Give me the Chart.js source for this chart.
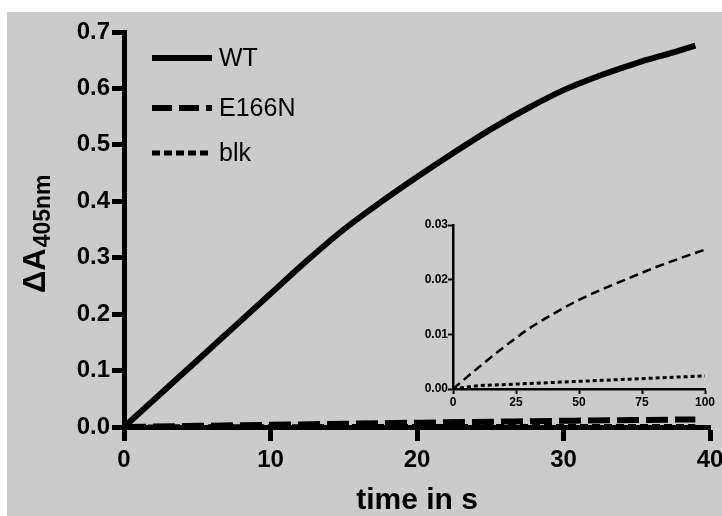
<!DOCTYPE html>
<html>
<head>
<meta charset="utf-8">
<script src="https://cdn.jsdelivr.net/npm/chart.js@4/dist/chart.umd.min.js"></script>
<style>
  html, body { margin: 0; padding: 0; background: #ffffff; }
  #wrap { position: relative; width: 722px; height: 516px; }
  #main { position: absolute; left: 0; top: 0; }
  #inset { position: absolute; left: 400px; top: 210px; }
</style>
</head>
<body>
<div id="wrap">
  <canvas id="main" width="722" height="516"></canvas>
  <canvas id="inset" width="322" height="210"></canvas>
</div>
<script>
// ---- data ----
const seriesNames = ['WT', 'E166N', 'blk'];

const timeWT = [0, 2.5, 5, 7.5, 10, 12.5, 15, 17.5, 20, 22.5, 25, 27.5, 30, 32.5, 35, 37.5, 39];
const valuesWT = [0, 0.059, 0.118, 0.177, 0.236, 0.295, 0.350, 0.398, 0.443, 0.486, 0.527, 0.564, 0.597, 0.623, 0.645, 0.664, 0.676];

const timeMain = [0, 5, 10, 15, 20, 25, 30, 35, 39];
const valuesE166NMain = [0, 0.0020, 0.0039, 0.0058, 0.0076, 0.0093, 0.0110, 0.0124, 0.0135];
const valuesBlkMain = [0, 0.0004, 0.0006, 0.0007, 0.0008, 0.0009, 0.0010, 0.0011, 0.0011];

const timeInset = [0, 10, 20, 30, 40, 50, 60, 70, 80, 90, 100];
const valuesE166NInset = [0, 0.0039, 0.0076, 0.0110, 0.0138, 0.0163, 0.0184, 0.0203, 0.0222, 0.0239, 0.0255];
const valuesBlkInset = [0, 0.0006, 0.0008, 0.0010, 0.0012, 0.0014, 0.0016, 0.0018, 0.0020, 0.0022, 0.0024];

const mainXTicks = [0, 10, 20, 30, 40];
const mainYTicks = [0, 0.1, 0.2, 0.3, 0.4, 0.5, 0.6, 0.7];
const insetXTicks = [0, 25, 50, 75, 100];
const insetYTicks = [0, 0.01, 0.02, 0.03];

const xTitle = 'time in s';
const yTitleMain = 'ΔA';
const yTitleSub = '405nm';

// ---- helpers ----
const pts = (xs, ys) => xs.map((x, i) => ({ x: x, y: ys[i] }));
const FONT = "'Liberation Sans', Arial, Helvetica, sans-serif";

const bgPlugin = {
  id: 'bg',
  beforeDraw(chart) {
    const ctx = chart.ctx;
    ctx.save();
    ctx.fillStyle = '#ffffff';
    ctx.fillRect(0, 0, chart.width, chart.height);
    ctx.fillStyle = '#cbcbcb';
    ctx.fillRect(7, 12, chart.width - 7, chart.height - 12);
    ctx.restore();
  }
};

const legendPlugin = {
  id: 'customLegend',
  afterDraw(chart) {
    const ctx = chart.ctx;
    const ca = chart.chartArea;
    const x0 = ca.left + 28, x1 = x0 + 60;
    const rows = [ca.top + 26, ca.top + 76, ca.top + 121];
    ctx.save();
    chart.data.datasets.forEach((ds, i) => {
      const y = rows[i];
      ctx.beginPath();
      ctx.lineWidth = ds.borderWidth;
      ctx.strokeStyle = ds.borderColor;
      ctx.setLineDash(ds.legendDash || ds.borderDash || []);
      ctx.moveTo(x0, y);
      ctx.lineTo(x1, y);
      ctx.stroke();
      ctx.setLineDash([]);
      ctx.fillStyle = '#000';
      ctx.font = '25px ' + FONT;
      ctx.textBaseline = 'middle';
      ctx.textAlign = 'left';
      ctx.fillText(ds.label, x1 + 7, y + 1);
    });
    ctx.restore();
  }
};

const yTitlePlugin = {
  id: 'yTitle',
  afterDraw(chart) {
    const ctx = chart.ctx;
    ctx.save();
    ctx.translate(45, 293);
    ctx.rotate(-Math.PI / 2);
    ctx.fillStyle = '#000';
    ctx.textAlign = 'left';
    ctx.textBaseline = 'alphabetic';
    ctx.font = 'bold 31px ' + FONT;
    ctx.fillText(yTitleMain, 0, 0);
    const w = ctx.measureText(yTitleMain).width;
    ctx.font = 'bold 23px ' + FONT;
    ctx.fillText(yTitleSub, w + 1, 5);
    ctx.restore();
  }
};

Chart.defaults.font.family = FONT;
Chart.defaults.color = '#000';

// ---- main chart ----
new Chart(document.getElementById('main'), {
  type: 'line',
  data: {
    datasets: [
      {
        label: seriesNames[0],
        data: pts(timeWT, valuesWT),
        borderColor: '#000',
        borderWidth: 6,
        pointRadius: 0,
        cubicInterpolationMode: 'monotone',
        fill: false
      },
      {
        label: seriesNames[1],
        data: pts(timeMain, valuesE166NMain),
        borderColor: '#000',
        borderWidth: 6,
        borderDash: [22, 7],
        legendDash: [20, 7],
        pointRadius: 0,
        cubicInterpolationMode: 'monotone',
        fill: false
      },
      {
        label: seriesNames[2],
        data: pts(timeMain, valuesBlkMain),
        borderColor: '#000',
        borderWidth: 5,
        borderDash: [8, 4],
        pointRadius: 0,
        cubicInterpolationMode: 'monotone',
        fill: false
      }
    ]
  },
  options: {
    responsive: false,
    devicePixelRatio: 1,
    animation: false,
    layout: { padding: { top: 32, right: 12, left: 0, bottom: 0 } },
    plugins: { legend: { display: false }, tooltip: { enabled: false } },
    scales: {
      x: {
        type: 'linear',
        min: 0, max: 40,
        afterBuildTicks: (s) => { s.ticks = mainXTicks.map(v => ({ value: v })); },
        ticks: {
          font: { size: 24, weight: 'bold' },
          color: '#000',
          padding: 5,
          maxRotation: 0
        },
        grid: { drawOnChartArea: false, drawTicks: true, tickLength: 14, tickWidth: 5, tickColor: '#000' },
        border: { display: true, color: '#000', width: 5 },
        title: {
          display: true,
          text: xTitle,
          font: { size: 30, weight: 'bold', lineHeight: 1 },
          color: '#000',
          padding: { top: 0, bottom: 0 }
        },
        afterFit: (s) => { s.height = 89; s.paddingLeft = 0; s.paddingRight = 0; }
      },
      y: {
        type: 'linear',
        min: 0, max: 0.7,
        afterBuildTicks: (s) => { s.ticks = mainYTicks.map(v => ({ value: v })); },
        ticks: {
          font: { size: 24, weight: 'bold' },
          color: '#000',
          padding: 2,
          callback: (v) => Number(v).toFixed(1)
        },
        grid: { drawOnChartArea: false, drawTicks: true, tickLength: 12, tickWidth: 5, tickColor: '#000' },
        border: { display: true, color: '#000', width: 5 },
        afterFit: (s) => { s.width = 124; }
      }
    }
  },
  plugins: [bgPlugin, legendPlugin, yTitlePlugin]
});

// ---- inset chart ----
new Chart(document.getElementById('inset'), {
  type: 'line',
  data: {
    datasets: [
      {
        label: seriesNames[1],
        data: pts(timeInset, valuesE166NInset),
        borderColor: '#000',
        borderWidth: 2.5,
        borderDash: [9, 5],
        pointRadius: 0,
        cubicInterpolationMode: 'monotone',
        fill: false
      },
      {
        label: seriesNames[2],
        data: pts(timeInset, valuesBlkInset),
        borderColor: '#000',
        borderWidth: 3,
        borderDash: [4, 3],
        pointRadius: 0,
        cubicInterpolationMode: 'monotone',
        fill: false
      }
    ]
  },
  options: {
    responsive: false,
    devicePixelRatio: 1,
    animation: false,
    layout: { padding: { top: 15, right: 17, left: 0, bottom: 0 } },
    plugins: { legend: { display: false }, tooltip: { enabled: false } },
    scales: {
      x: {
        type: 'linear',
        min: 0, max: 100,
        afterBuildTicks: (s) => { s.ticks = insetXTicks.map(v => ({ value: v })); },
        ticks: { font: { size: 12, weight: 'bold' }, color: '#000', padding: 1, maxRotation: 0 },
        grid: { drawOnChartArea: false, drawTicks: true, tickLength: 5, tickWidth: 2, tickColor: '#000' },
        border: { display: true, color: '#000', width: 2.5 },
        afterFit: (s) => { s.height = 31; s.paddingLeft = 0; s.paddingRight = 0; }
      },
      y: {
        type: 'linear',
        min: 0, max: 0.03,
        afterBuildTicks: (s) => { s.ticks = insetYTicks.map(v => ({ value: v })); },
        ticks: {
          font: { size: 12, weight: 'bold' }, color: '#000', padding: 0,
          callback: (v) => Number(v).toFixed(2)
        },
        grid: { drawOnChartArea: false, drawTicks: true, tickLength: 5, tickWidth: 2, tickColor: '#000' },
        border: { display: true, color: '#000', width: 2.5 },
        afterFit: (s) => { s.width = 53; }
      }
    }
  }
});
</script>
</body>
</html>
